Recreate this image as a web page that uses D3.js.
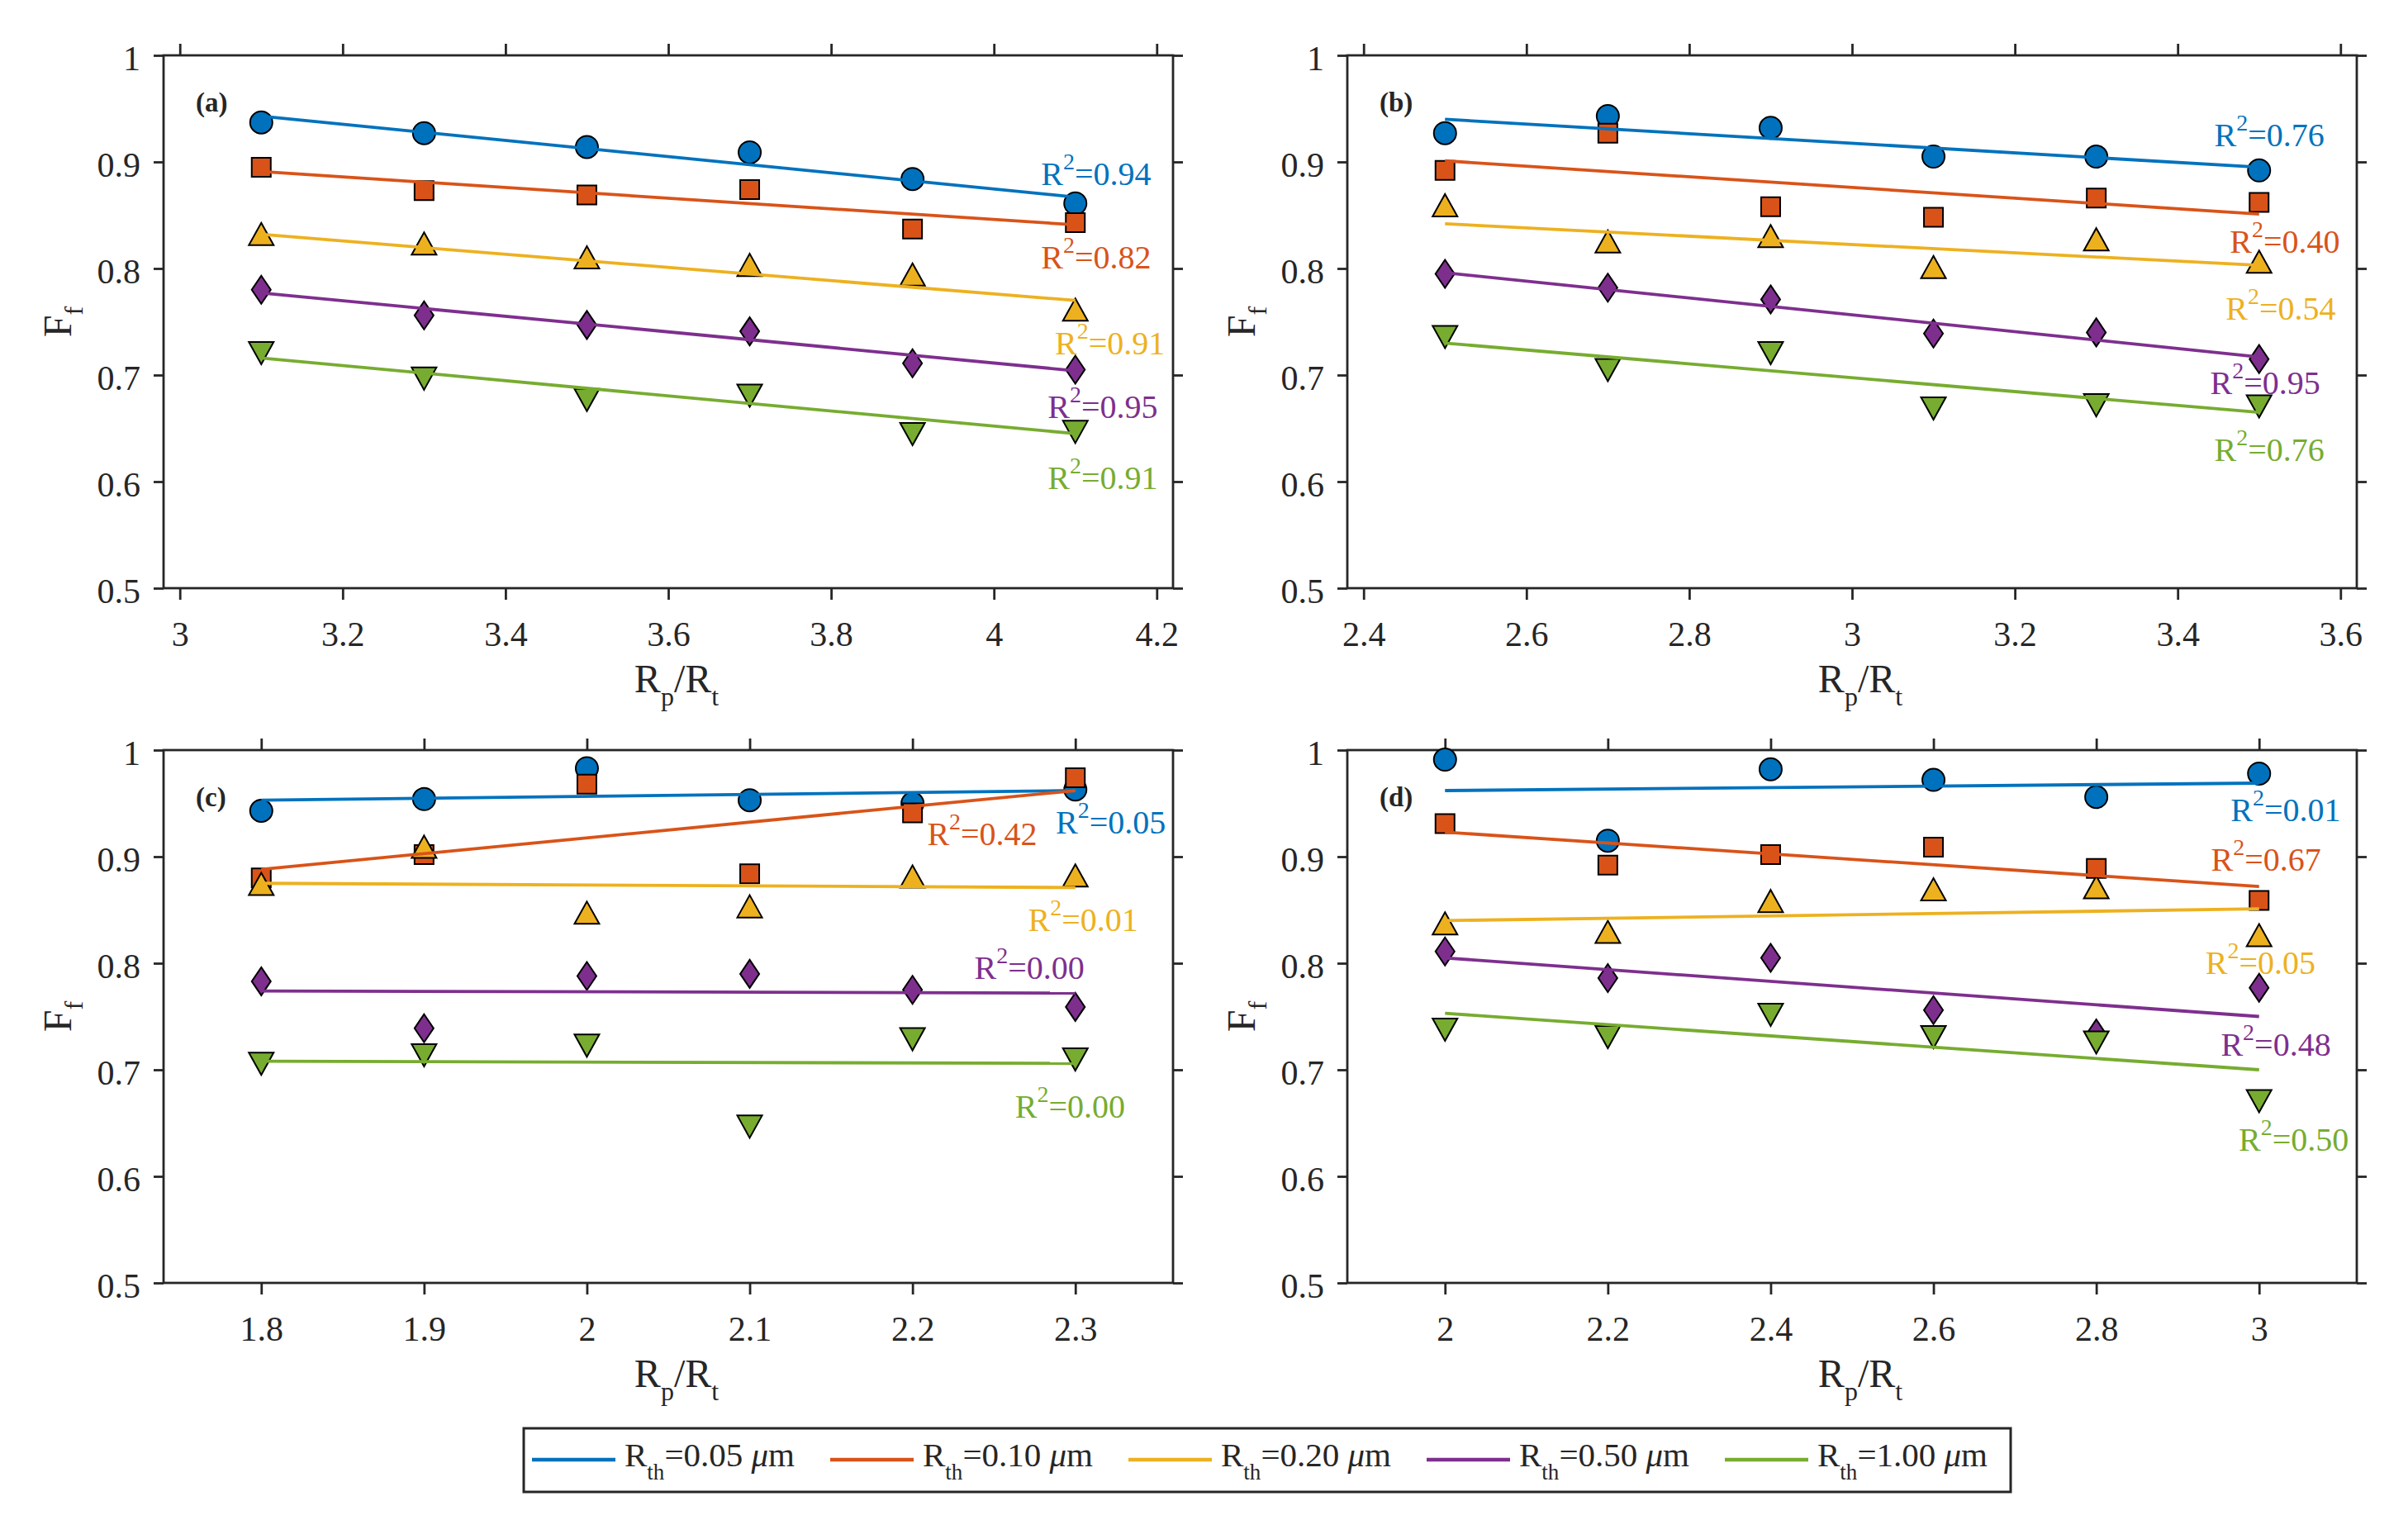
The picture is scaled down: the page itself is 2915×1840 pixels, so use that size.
<!DOCTYPE html>
<html lang="en">
<head>
<meta charset="UTF-8">
<title>Ff vs Rp/Rt</title>
<script src="https://cdn.jsdelivr.net/npm/d3@7/dist/d3.min.js"></script>
<style>
    body { margin: 0; background: #fff; }
    svg { display: block; }
    text { font-family: "Liberation Serif", "Times New Roman", serif; fill: #262626; }
</style>
</head>
<body>
<script>
    // series: R_th values (legend) + style per series
    const rthLabels = ["0.05", "0.10", "0.20", "0.50", "1.00"];
    const colors = ["#0072BD", "#D95319", "#EDB120", "#7E2F8E", "#77AC30"];
    const shapes = ["circle", "square", "triUp", "diamond", "triDown"];

    const yTicks = [0.5, 0.6, 0.7, 0.8, 0.9, 1];

    // (a)
    const xA = [3.1, 3.3, 3.5, 3.7, 3.9, 4.1];
    const ffA = [
        [0.937, 0.927, 0.914, 0.909, 0.884, 0.861],
        [0.895, 0.873, 0.869, 0.874, 0.837, 0.843],
        [0.832, 0.823, 0.810, 0.803, 0.794, 0.761],
        [0.780, 0.756, 0.747, 0.741, 0.711, 0.705],
        [0.721, 0.697, 0.677, 0.681, 0.645, 0.647]
    ];
    const fitA = [[0.943, 0.867], [0.891, 0.841], [0.832, 0.770], [0.777, 0.704], [0.716, 0.645]];
    const r2A = ["0.94", "0.82", "0.91", "0.95", "0.91"];
    const ticksA = [3, 3.2, 3.4, 3.6, 3.8, 4, 4.2];

    // (b)
    const xB = [2.5, 2.7, 2.9, 3.1, 3.3, 3.5];
    const ffB = [
        [0.927, 0.943, 0.932, 0.905, 0.905, 0.892],
        [0.892, 0.927, 0.858, 0.848, 0.866, 0.862],
        [0.859, 0.825, 0.830, 0.801, 0.827, 0.806],
        [0.795, 0.782, 0.771, 0.739, 0.740, 0.715],
        [0.736, 0.705, 0.721, 0.669, 0.672, 0.671]
    ];
    const fitB = [[0.940, 0.895], [0.901, 0.851], [0.842, 0.803], [0.796, 0.717], [0.730, 0.665]];
    const r2B = ["0.76", "0.40", "0.54", "0.95", "0.76"];
    const ticksB = [2.4, 2.6, 2.8, 3, 3.2, 3.4, 3.6];

    // (c)
    const xC = [1.8, 1.9, 2.0, 2.1, 2.2, 2.3];
    const ffC = [
        [0.943, 0.954, 0.983, 0.953, 0.950, 0.963],
        [0.880, 0.902, 0.968, 0.884, 0.941, 0.974],
        [0.874, 0.909, 0.847, 0.853, 0.881, 0.882],
        [0.783, 0.739, 0.788, 0.790, 0.775, 0.759],
        [0.706, 0.714, 0.723, 0.647, 0.729, 0.710]
    ];
    const fitC = [[0.953, 0.962], [0.888, 0.962], [0.875, 0.871], [0.774, 0.772], [0.708, 0.706]];
    const r2C = ["0.05", "0.42", "0.01", "0.00", "0.00"];
    const ticksC = [1.8, 1.9, 2, 2.1, 2.2, 2.3];

    // (d)
    const xD = [2.0, 2.2, 2.4, 2.6, 2.8, 3.0];
    const ffD = [
        [0.991, 0.915, 0.982, 0.972, 0.956, 0.978],
        [0.931, 0.892, 0.902, 0.909, 0.889, 0.859],
        [0.837, 0.829, 0.858, 0.869, 0.871, 0.826],
        [0.811, 0.786, 0.805, 0.756, 0.734, 0.777],
        [0.738, 0.731, 0.752, 0.731, 0.726, 0.671]
    ];
    const fitD = [[0.962, 0.969], [0.923, 0.872], [0.840, 0.851], [0.805, 0.750], [0.753, 0.700]];
    const r2D = ["0.01", "0.67", "0.05", "0.48", "0.50"];
    const ticksD = [2, 2.2, 2.4, 2.6, 2.8, 3];

    // where the R^2 texts sit, in data units (left end, baseline)
    const r2PosA = [[4.058, 0.878], [4.058, 0.800], [4.075, 0.719], [4.066, 0.660], [4.066, 0.593]];
    const r2PosB = [[3.445, 0.915], [3.464, 0.815], [3.459, 0.752], [3.440, 0.682], [3.445, 0.619]];
    const r2PosC = [[2.288, 0.922], [2.209, 0.911], [2.271, 0.830], [2.238, 0.785], [2.263, 0.655]];
    const r2PosD = [[2.965, 0.933], [2.941, 0.887], [2.934, 0.790], [2.953, 0.713], [2.975, 0.624]];

    const panels = [
        {tag: "(a)", xs: xA, ff: ffA, fit: fitA, r2: r2A, r2Pos: r2PosA, ticks: ticksA, dom: [2.98, 4.22], left: 198, top: 67},
        {tag: "(b)", xs: xB, ff: ffB, fit: fitB, r2: r2B, r2Pos: r2PosB, ticks: ticksB, dom: [2.38, 3.62], left: 1631, top: 67},
        {tag: "(c)", xs: xC, ff: ffC, fit: fitC, r2: r2C, r2Pos: r2PosC, ticks: ticksC, dom: [1.74, 2.36], left: 198, top: 908},
        {tag: "(d)", xs: xD, ff: ffD, fit: fitD, r2: r2D, r2Pos: r2PosD, ticks: ticksD, dom: [1.88, 3.12], left: 1631, top: 908}
    ];
    const PW = 1222, PH = 645;
    const axisColor = "#262626";

    const svg = d3.select("body").append("svg")
        .attr("width", 2915).attr("height", 1840);

    // marker outlines centred on (0,0)
    function markerPath(shape) {
        switch (shape) {
            case "circle":
                return d3.symbol(d3.symbolCircle, Math.PI * 13.5 * 13.5)();
            case "square":
                return "M-11.5,-11.5H11.5V11.5H-11.5Z";
            case "triUp":
                return "M0,-14L15,13L-15,13Z";
            case "triDown":
                return "M0,14L15,-13L-15,-13Z";
            case "diamond":
                return "M0,-17L11.5,0L0,17L-11.5,0Z";
        }
    }

    const fmt = d3.format("~g");

    panels.forEach(function (p) {
        const x = d3.scaleLinear().domain(p.dom).range([0, PW]);
        const y = d3.scaleLinear().domain([0.5, 1]).range([PH, 0]);
        const g = svg.append("g").attr("transform", "translate(" + p.left + "," + p.top + ")");

        // axes, ticks outward on all four sides
        const bottom = g.append("g").attr("transform", "translate(0," + PH + ")")
            .call(d3.axisBottom(x).tickValues(p.ticks).tickFormat(fmt).tickSizeInner(14).tickSizeOuter(0).tickPadding(26));
        const top = g.append("g")
            .call(d3.axisTop(x).tickValues(p.ticks).tickFormat("").tickSizeInner(14).tickSizeOuter(0));
        const left = g.append("g")
            .call(d3.axisLeft(y).tickValues(yTicks).tickFormat(fmt).tickSizeInner(12).tickSizeOuter(0).tickPadding(16));
        const right = g.append("g").attr("transform", "translate(" + PW + ",0)")
            .call(d3.axisRight(y).tickValues(yTicks).tickFormat("").tickSizeInner(12).tickSizeOuter(0));
        [bottom, top, left, right].forEach(function (a) {
            a.select(".domain").remove();
            a.selectAll(".tick line").attr("stroke", axisColor).attr("stroke-width", 2.8);
            a.selectAll(".tick text").attr("font-size", 42).attr("font-family", null).attr("fill", axisColor);
        });
        left.selectAll(".tick text").attr("dy", "0.42em");

        g.append("rect").attr("width", PW).attr("height", PH)
            .attr("fill", "none").attr("stroke", axisColor).attr("stroke-width", 2.8);

        // markers
        p.ff.forEach(function (vals, si) {
            g.append("g").selectAll("path").data(vals).join("path")
                .attr("d", markerPath(shapes[si]))
                .attr("transform", function (v, i) { return "translate(" + x(p.xs[i]) + "," + y(v) + ")"; })
                .attr("fill", colors[si])
                .attr("stroke", "#000")
                .attr("stroke-width", 2);
        });

        // fitted lines
        const xEnds = [p.xs[0], p.xs[p.xs.length - 1]];
        const line = d3.line().x(function (d, i) { return x(xEnds[i]); }).y(function (d) { return y(d); });
        p.fit.forEach(function (f, si) {
            g.append("path").attr("d", line(f))
                .attr("fill", "none").attr("stroke", colors[si]).attr("stroke-width", 3.8);
        });

        // R^2 annotations
        p.r2.forEach(function (r, si) {
            const t = g.append("text")
                .attr("x", x(p.r2Pos[si][0])).attr("y", y(p.r2Pos[si][1]))
                .attr("font-size", 40).style("fill", colors[si]);
            t.append("tspan").text("R");
            t.append("tspan").attr("font-size", 28).attr("dy", -19).text("2");
            t.append("tspan").attr("dy", 19).text("=" + r);
        });

        // panel tag
        g.append("text").attr("x", 39).attr("y", 68)
            .attr("font-size", 33).attr("font-weight", "bold").text(p.tag);

        // axis titles
        const xl = g.append("text").attr("x", PW / 2 + 10).attr("y", PH + 126)
            .attr("text-anchor", "middle").attr("font-size", 48);
        xl.append("tspan").text("R");
        xl.append("tspan").attr("font-size", 32).attr("dy", 16).text("p");
        xl.append("tspan").attr("dy", -16).text("/R");
        xl.append("tspan").attr("font-size", 32).attr("dy", 16).text("t");

        const yl = g.append("text")
            .attr("transform", "translate(-112," + (PH / 2) + ") rotate(-90)")
            .attr("text-anchor", "middle").attr("font-size", 48);
        yl.append("tspan").text("F");
        yl.append("tspan").attr("font-size", 32).attr("dy", 14).text("f");
    });

    // legend
    const legend = svg.append("g").attr("transform", "translate(634,1729)");
    legend.append("rect").attr("width", 1800).attr("height", 77)
        .attr("fill", "#fff").attr("stroke", axisColor).attr("stroke-width", 3);
    rthLabels.forEach(function (lab, i) {
        const e = legend.append("g").attr("transform", "translate(10," + 38 + ")")
            .attr("transform", "translate(" + (10 + i * 361) + ",38)");
        e.append("line").attr("x1", 0).attr("x2", 101).attr("y1", 0).attr("y2", 0)
            .attr("stroke", colors[i]).attr("stroke-width", 4.5);
        const t = e.append("text").attr("x", 112).attr("y", 8).attr("font-size", 41);
        t.append("tspan").text("R");
        t.append("tspan").attr("font-size", 27).attr("dy", 16).text("th");
        t.append("tspan").attr("dy", -16).text("=" + lab + " ");
        t.append("tspan").attr("font-style", "italic").text("\u03bc");
        t.append("tspan").text("m");
    });
</script>
</body>
</html>
